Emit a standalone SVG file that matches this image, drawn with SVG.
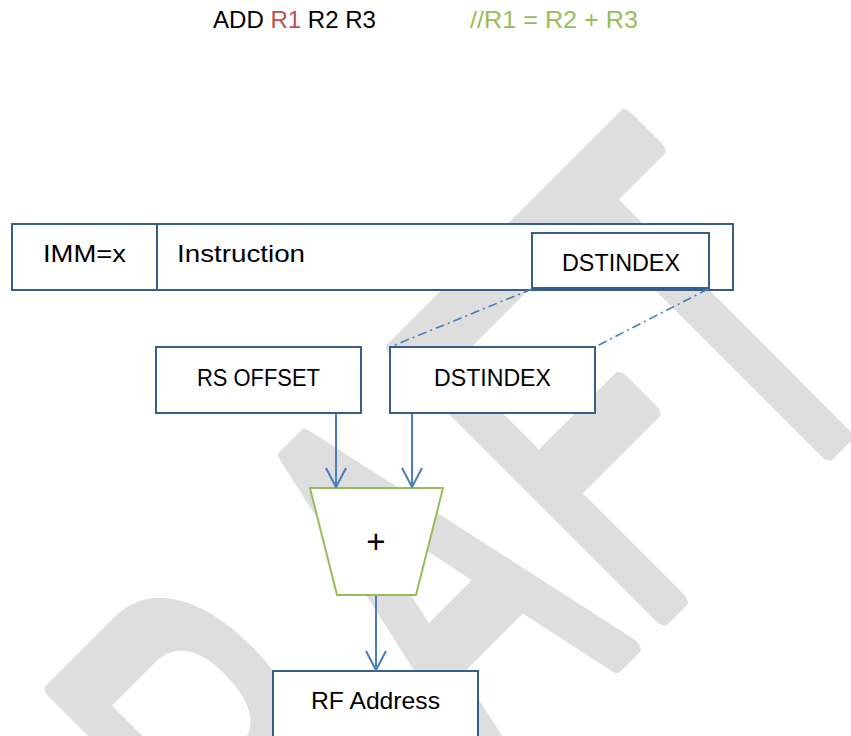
<svg xmlns="http://www.w3.org/2000/svg" width="851" height="736" viewBox="0 0 851 736">
  <style>
    .lbl { font-family: "Liberation Sans", Arial, sans-serif; font-size: 24px; fill: #000; }
    .box { fill: #fff; stroke: #385d8a; stroke-width: 2; }
    .conn { fill: none; stroke: #4a7ebb; stroke-width: 2; }
    .dd { fill: none; stroke: #4a7ebb; stroke-width: 1.6; stroke-dasharray: 9 4 2 4; }
    .wm { font-family: "Liberation Sans", Arial, sans-serif; font-size: 100px; fill: #dedede; stroke: #dedede; stroke-width: 16; stroke-linejoin: round; vector-effect: non-scaling-stroke; }
  </style>
  <defs>
    <marker id="arr" markerUnits="userSpaceOnUse" markerWidth="40" markerHeight="40" refX="0" refY="0" orient="auto" overflow="visible">
      <path d="M-19,-10 L0,0 L-19,10" fill="none" stroke="#4a7ebb" stroke-width="2"/>
    </marker>
  </defs>
  <rect width="851" height="736" fill="#fff"/>

  <g id="watermark">
    <text class="wm" transform="matrix(2.1 -2.1 3.87 3.87 150 1128)" x="0 72.2 163.4 234.8 295.7" y="0">DRAFT</text>
  </g>

  <g id="title">
    <text class="lbl" x="213" y="28" textLength="163" lengthAdjust="spacingAndGlyphs"><tspan>ADD </tspan><tspan fill="#c0504d">R1</tspan><tspan> R2 R3</tspan></text>
    <text class="lbl" x="470" y="28" textLength="168" lengthAdjust="spacingAndGlyphs" style="fill:#9bbb59">//R1 = R2 + R3</text>
  </g>

  <g id="instruction">
    <rect class="box" x="12" y="224" width="721" height="66"/>
    <line x1="157" y1="224" x2="157" y2="290" stroke="#385d8a" stroke-width="2"/>
    <text class="lbl" x="43" y="262" textLength="83" lengthAdjust="spacingAndGlyphs">IMM=x</text>
    <text class="lbl" x="177" y="262" textLength="128" lengthAdjust="spacingAndGlyphs">Instruction</text>
  </g>

  <g id="dstindex-field">
    <rect class="box" x="532" y="233" width="177" height="55"/>
    <text class="lbl" x="562" y="271" textLength="118" lengthAdjust="spacingAndGlyphs">DSTINDEX</text>
  </g>

  <g id="rs-offset">
    <rect class="box" x="156" y="347" width="205" height="66"/>
    <text class="lbl" x="197" y="386" textLength="123" lengthAdjust="spacingAndGlyphs">RS OFFSET</text>
  </g>

  <g id="dstindex">
    <rect class="box" x="390" y="347" width="205" height="66"/>
    <text class="lbl" x="434" y="386" textLength="117" lengthAdjust="spacingAndGlyphs">DSTINDEX</text>
  </g>

  <g id="adder">
    <polygon points="310,488 443,488 416,595 337,595" fill="#fff" stroke="#9bbb59" stroke-width="2"/>
    <text class="lbl" x="376" y="553" text-anchor="middle" style="font-size:33px">+</text>
  </g>

  <g id="rf-address">
    <rect class="box" x="273" y="671" width="205" height="90"/>
    <text class="lbl" x="311" y="709" textLength="129" lengthAdjust="spacingAndGlyphs">RF Address</text>
  </g>

  <g id="connectors">
    <line class="dd" x1="532" y1="289" x2="395" y2="345"/>
    <line class="dd" x1="708" y1="289" x2="597" y2="346"/>
    <line class="conn" x1="336" y1="414" x2="336" y2="487" marker-end="url(#arr)"/>
    <line class="conn" x1="412" y1="414" x2="412" y2="487" marker-end="url(#arr)"/>
    <line class="conn" x1="376" y1="596" x2="376" y2="670" marker-end="url(#arr)"/>
  </g>
</svg>
